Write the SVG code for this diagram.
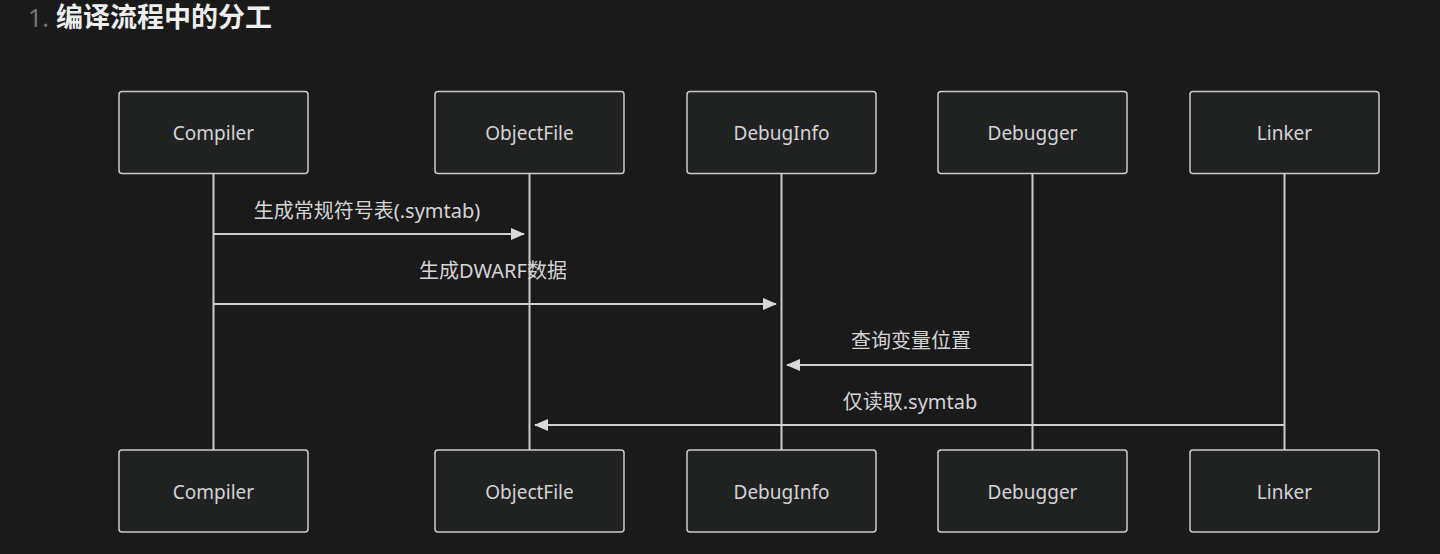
<svg xmlns="http://www.w3.org/2000/svg" width="1440" height="554" viewBox="0 0 1440 554">
<style>
.bg{fill:#1a1a1a}
.box{fill:#202222;stroke:#cccccc;stroke-width:1.5}
.lt{font-family:"Noto Sans","Noto Sans CJK SC",sans-serif;font-size:19px;fill:#d4d4d4;text-anchor:middle;dominant-baseline:central}
.life{stroke:#cccccc;stroke-width:2;fill:none}
.msg{stroke:#d0d0d0;stroke-width:2;fill:none}
.ml{font-family:"Noto Sans","Noto Sans CJK SC",sans-serif;font-size:20px;fill:#d4d4d4;text-anchor:middle}
</style>
<defs>
<marker id="ah" markerWidth="14" markerHeight="12" refX="13" refY="6" orient="auto" markerUnits="userSpaceOnUse">
<path d="M0,0 L14,6 L0,12 Z" fill="#d8d8d8"/>
</marker>
</defs>
<rect class="bg" x="0" y="0" width="1440" height="554"/>
<text x="28" y="26.5" font-family="Noto Sans,Noto Sans CJK SC,sans-serif" font-size="25" fill="#777777">1.</text>
<text x="56" y="26.5" font-family="Noto Sans CJK SC,sans-serif" font-size="27" font-weight="bold" fill="#eeeeee">编译流程中的分工</text>
<g id="lifelines">
<line class="life" x1="213.5" y1="173" x2="213.5" y2="450"/>
<line class="life" x1="529.5" y1="173" x2="529.5" y2="450"/>
<line class="life" x1="781.5" y1="173" x2="781.5" y2="450"/>
<line class="life" x1="1032.5" y1="173" x2="1032.5" y2="450"/>
<line class="life" x1="1284.5" y1="173" x2="1284.5" y2="450"/>
</g>
<g id="Compiler">
<rect class="box" x="119" y="91.5" width="189" height="82" rx="3"/><text class="lt" x="213.5" y="133">Compiler</text>
<rect class="box" x="119" y="450" width="189" height="82" rx="3"/><text class="lt" x="213.5" y="492">Compiler</text>
</g>
<g id="ObjectFile">
<rect class="box" x="435" y="91.5" width="189" height="82" rx="3"/><text class="lt" x="529.5" y="133">ObjectFile</text>
<rect class="box" x="435" y="450" width="189" height="82" rx="3"/><text class="lt" x="529.5" y="492">ObjectFile</text>
</g>
<g id="DebugInfo">
<rect class="box" x="687" y="91.5" width="189" height="82" rx="3"/><text class="lt" x="781.5" y="133">DebugInfo</text>
<rect class="box" x="687" y="450" width="189" height="82" rx="3"/><text class="lt" x="781.5" y="492">DebugInfo</text>
</g>
<g id="Debugger">
<rect class="box" x="938" y="91.5" width="189" height="82" rx="3"/><text class="lt" x="1032.5" y="133">Debugger</text>
<rect class="box" x="938" y="450" width="189" height="82" rx="3"/><text class="lt" x="1032.5" y="492">Debugger</text>
</g>
<g id="Linker">
<rect class="box" x="1190" y="91.5" width="189" height="82" rx="3"/><text class="lt" x="1284.5" y="133">Linker</text>
<rect class="box" x="1190" y="450" width="189" height="82" rx="3"/><text class="lt" x="1284.5" y="492">Linker</text>
</g>
<g id="connectors">
<line class="msg" x1="213.5" y1="234" x2="524" y2="234" marker-end="url(#ah)"/>
<line class="msg" x1="213.5" y1="304" x2="776" y2="304" marker-end="url(#ah)"/>
<line class="msg" x1="1032.5" y1="365" x2="787" y2="365" marker-end="url(#ah)"/>
<line class="msg" x1="1284.5" y1="425" x2="535" y2="425" marker-end="url(#ah)"/>
<text class="ml" x="367" y="218">生成常规符号表(.symtab)</text>
<text class="ml" x="493" y="278">生成DWARF数据</text>
<text class="ml" x="911" y="348">查询变量位置</text>
<text class="ml" x="910" y="409">仅读取.symtab</text>
</g>
</svg>
